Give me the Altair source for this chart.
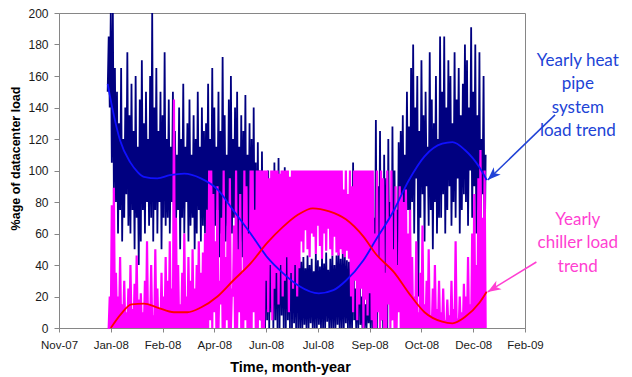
import altair as alt
import pandas as pd

# ---------------- axis ticks ----------------
tick_dates = ["2007-11-15", "2008-01-04", "2008-02-23", "2008-04-13", "2008-06-02",
              "2008-07-22", "2008-09-10", "2008-10-30", "2008-12-19", "2009-02-07"]
y_ticks = [0, 20, 40, 60, 80, 100, 120, 140, 160, 180, 200]

# ---------------- heat pipe system load (2-day low / high), from 1 Jan 2008 ----------------
heat_hi = [185, 200, 200, 165,
           150, 130, 165, 120, 140, 175, 135, 155, 125, 160, 115, 145,
           170, 130, 150, 120, 160, 200, 140, 165, 125, 150, 135, 175, 120,
           145, 115, 150, 125, 110, 140, 120, 155, 115, 130, 145, 110, 135, 120, 150, 115, 140, 125,
           130, 155, 120, 165, 140, 115, 150, 125, 172, 135, 110, 145, 160, 120, 140, 150, 115, 135,
           125, 148, 110, 130, 120, 140, 105, 118, 100, 112, 95,
           85, 100, 70, 95, 105, 80, 108, 90, 75, 102, 85, 60, 95, 70, 50, 80, 45,
           42, 45, 38, 46, 40, 44, 36, 47, 43, 39, 45, 41, 48, 37, 44, 46, 40,
           46, 48, 44, 47, 45, 43, 42,
           30, 105, 25, 35, 95, 20, 38, 15, 30, 25, 40,
           70, 132, 90, 125, 60, 110, 95, 120, 80, 128, 100, 75, 118,
           125, 135, 110, 150, 128, 165,
           180, 140, 160, 125, 170, 135, 150, 115, 175, 145, 130, 160, 120, 185,
           150, 185, 140, 170, 160, 130, 175, 145, 165, 135, 155, 180,
           170, 140, 191, 150, 180, 135, 175, 120, 160, 110]
heat_lo = [150, 140, 105, 85,
           80, 60, 75, 55, 70, 85, 65, 60, 75, 50, 70, 40,
           55, 75, 60, 80, 65, 70, 55, 75, 60, 80, 50, 70, 65,
           70, 60, 80, 55, 65, 75, 50, 70, 60, 80, 55, 65, 70, 50, 60, 75, 55, 65,
           60, 75, 55, 70, 50, 65, 75, 45, 60, 70, 55, 65, 40, 60, 70, 50, 35, 55,
           45, 60, 30, 50, 40, 20, 35, 10, 25, 5, 15,
           0, 5, 0, 10, 0, 5, 0, 0, 8, 0, 0, 5, 0, 0, 3, 0, 0,
           0, 0, 2, 0, 0, 3, 0, 0, 0, 2, 0, 0, 0, 4, 0, 0, 0,
           0, 2, 0, 0, 0, 3, 0,
           0, 0, 5, 0, 0, 2, 0, 0, 0, 3, 0,
           0, 10, 0, 15, 5, 0, 10, 0, 20, 5, 15, 30, 25,
           55, 70, 45, 65, 75, 60,
           80, 60, 95, 20, 70, 85, 55, 90, 65, 75, 50, 80, 60, 70,
           70, 85, 60, 75, 90, 65, 80, 70, 95, 60, 75, 85,
           80, 65, 100, 70, 90, 60, 75, 30, 85, 40]

# ---------------- chiller load (2-day low / high) ----------------
chill_hi = [0, 20, 78, 89,
            35, 20, 45, 15, 30, 10, 25, 40, 12, 28, 46, 18,
            22, 10, 30, 55, 15, 40, 8, 50, 25, 12, 35, 20, 45,
            30, 55, 25, 145, 70, 40, 15, 35, 60, 20, 45, 30, 50, 25, 40, 55, 35, 48,
            60, 75, 100, 100, 85, 55, 90, 30, 70, 100, 45, 80, 95, 25, 65, 100, 50, 85,
            35, 100, 90, 60, 100, 100, 75, 100, 100, 100, 100,
            100, 100, 95, 100, 100, 100, 100, 98, 100, 100, 100, 100, 96, 100, 100, 100, 100,
            100, 100, 100, 100, 100, 100, 100, 100, 100, 100, 100, 100, 100, 100, 100, 100, 100,
            100, 100, 100, 100, 88, 100, 85,
            100, 90, 100, 100, 100, 100, 100, 100, 100, 100, 100,
            100, 60, 100, 45, 100, 95, 35, 100, 70, 100, 50, 90, 40,
            90, 85, 80, 88, 60, 75,
            45, 20, 55, 10, 35, 65, 15, 30, 50, 8, 25, 40, 12, 30,
            10, 25, 5, 18, 8, 30, 12, 55, 6, 20, 10, 28,
            20, 45, 15, 60, 85, 40, 95, 113, 70, 100]
chill_lo = [0, 0, 0, 0,
            0, 0, 0, 0, 0, 0, 0, 0, 0, 0, 0, 0,
            0, 0, 0, 0, 0, 0, 0, 0, 0, 0, 0, 0, 0,
            0, 0, 0, 0, 0, 0, 0, 0, 0, 0, 0, 0, 0, 0, 0, 0, 0, 0,
            0, 0, 5, 0, 10, 0, 0, 15, 0, 0, 5, 0, 0, 20, 0, 0, 10, 0,
            0, 5, 0, 0, 0, 10, 0, 0, 5, 0, 0,
            30, 10, 40, 5, 25, 35, 15, 40, 20, 30, 45, 10, 35, 25, 40, 20, 38,
            55, 48, 62, 50, 45, 60, 58, 47, 65, 52, 44, 60, 49, 63, 50, 46, 58,
            48, 46, 50, 47, 45, 49, 44,
            20, 10, 30, 5, 15, 25, 0, 18, 8, 22, 5,
            0, 0, 10, 0, 5, 0, 0, 15, 0, 5, 0, 0, 10,
            0, 0, 0, 0, 0, 0,
            0, 0, 0, 0, 0, 0, 0, 0, 0, 0, 0, 0, 0, 0,
            0, 0, 0, 0, 0, 0, 0, 0, 0, 0, 0, 0,
            0, 0, 0, 0, 0, 0, 0, 0, 0, 0]

# ---------------- yearly trends (day of 2008, value) ----------------
heat_trend_day = [0, 5, 12, 22, 29, 35, 48, 60, 74, 90, 106, 121, 138, 154, 169, 184,
                  204, 218, 230, 247, 259, 275, 291, 306, 323, 333, 345, 359, 366]
heat_trend_val = [155, 138, 119, 105, 99, 96, 95, 97, 98, 95, 88, 75, 60, 45, 35, 27,
                  22, 24, 30, 43, 56, 73, 94, 109, 117, 118, 113, 102, 94]
chill_trend_day = [3, 13, 23, 35, 48, 64, 77, 90, 106, 121, 138, 154, 169, 184, 198,
                   214, 230, 247, 259, 277, 291, 306, 323, 333, 345, 359, 366]
chill_trend_val = [0, 9, 15, 15.5, 13, 10, 10, 13, 20, 30, 41, 54, 64, 72, 76,
                   74, 69, 58, 47, 35, 22, 10, 4, 3, 7, 16, 23]

# ---------------- annotations (data coordinates) ----------------
note_text = ["Yearly heat\npipe\nsystem\nload trend", "Yearly\nchiller load\ntrend"]
note_date = ["2009-03-30", "2009-03-30"]
note_val = [169.5, 68.6]
note_color = ["#2143d6", "#ff3fd2"]

arrow_from_date = ["2009-03-08", "2009-02-18"]
arrow_from_val = [135.3, 41.9]
arrow_to_date = ["2009-01-02", "2009-01-02"]
arrow_to_val = [94.0, 22.9]
arrow_angle = [226, 238.5]
arrow_color = ["#2143d6", "#ff3fd2"]

start = pd.Timestamp("2008-01-01")


def zigzag(lo, hi, lo_first=True):
    rows = []
    for k, (a, b) in enumerate(zip(lo, hi)):
        first, second = (a, b) if lo_first else (b, a)
        rows.append({"date": start + pd.Timedelta(days=2 * k), "value": first})
        rows.append({"date": start + pd.Timedelta(days=2 * k + 1), "value": second})
    return pd.DataFrame(rows)


heat_df = zigzag(heat_lo, heat_hi, True)
chill_df = zigzag(chill_lo, chill_hi, False)
heat_tr = pd.DataFrame({"date": [start + pd.Timedelta(days=d) for d in heat_trend_day],
                        "value": heat_trend_val})
chill_tr = pd.DataFrame({"date": [start + pd.Timedelta(days=d) for d in chill_trend_day],
                         "value": chill_trend_val})
notes = pd.DataFrame({"date": pd.to_datetime(note_date), "value": note_val,
                      "label": note_text, "c": note_color})
arrows = pd.DataFrame({"date": pd.to_datetime(arrow_from_date), "value": arrow_from_val,
                       "date2": pd.to_datetime(arrow_to_date), "value2": arrow_to_val,
                       "c": arrow_color})
heads_df = pd.DataFrame({"date": pd.to_datetime(arrow_to_date), "value": arrow_to_val,
                         "ang": arrow_angle, "c": arrow_color})


def dt(s):
    t = pd.Timestamp(s)
    return alt.DateTime(year=t.year, month=t.month, date=t.day)


x_scale = alt.Scale(domain=[dt(tick_dates[0]), dt(tick_dates[-1])])
y_scale = alt.Scale(domain=[0, 200], nice=False)

x_enc = alt.X("date:T", scale=x_scale,
              axis=alt.Axis(values=[dt(s) for s in tick_dates], tickCount=20, format="%b-%y",
                            title="Time, month-year", grid=False,
                            labelFlush=False, labelOverlap=False,
                            titleX=231, titleY=39, titleBaseline="middle",
                            titleAlign="center"))
y_enc = alt.Y("value:Q", scale=y_scale,
              axis=alt.Axis(values=y_ticks, tickCount=20, title="%age of datacenter load",
                            grid=False, titleFontSize=12.5, tickSize=5, labelPadding=6,
                            labelFontSize=12, labelOverlap=False, labelFlush=False,
                            titleX=-44, titleY=145, titleBaseline="middle",
                            titleAlign="center"))

heat = alt.Chart(heat_df).mark_line(color="#000080", strokeWidth=1.8).encode(x=x_enc, y=y_enc)
chill = alt.Chart(chill_df).mark_line(color="#ff00ff", strokeWidth=2.2).encode(x=x_enc, y=y_enc)
heat_trend = alt.Chart(heat_tr).mark_line(color="#1010ff", strokeWidth=1.8,
                                          interpolate="monotone").encode(x=x_enc, y=y_enc)
chill_trend = alt.Chart(chill_tr).mark_line(color="#ff0000", strokeWidth=1.8,
                                            interpolate="monotone").encode(x=x_enc, y=y_enc)
texts = alt.Chart(notes).mark_text(align="center", baseline="middle", lineBreak="\n",
                                   font="Lato", fontSize=17, lineHeight=23.3).encode(
    x=x_enc, y=y_enc, text="label:N", color=alt.Color("c:N", scale=None))
rules = alt.Chart(arrows).mark_rule(strokeWidth=1.5).encode(
    x=x_enc, y=y_enc, x2="date2:T", y2="value2:Q", color=alt.Color("c:N", scale=None))
heads = alt.Chart(heads_df).mark_point(shape="M0,0 L0.38,1 L0,0.72 L-0.38,1 Z", filled=True,
                                       size=700, opacity=1, strokeWidth=0).encode(
    x=x_enc, y=y_enc, angle=alt.Angle("ang:Q", scale=None),
    color=alt.Color("c:N", scale=None))

chart = alt.layer(heat, chill, heat_trend, chill_trend, rules, heads, texts).properties(
    width=466, height=315,
    autosize=alt.AutoSizeParams(type="none"),
    padding={"left": 51, "top": 5, "right": 99, "bottom": 47},
).configure_view(stroke="#868686", strokeWidth=1).configure_axis(
    domainColor="#868686", tickColor="#868686", tickSize=4,
    labelFont="Liberation Sans", labelFontSize=11.5, labelColor="#1a1a1a", labelPadding=7,
    titleFont="Liberation Sans", titleFontSize=14.5, titleFontWeight="bold", titleColor="#000000",
)

chart.save("out.html", embed_options={"renderer": "svg", "actions": False})
